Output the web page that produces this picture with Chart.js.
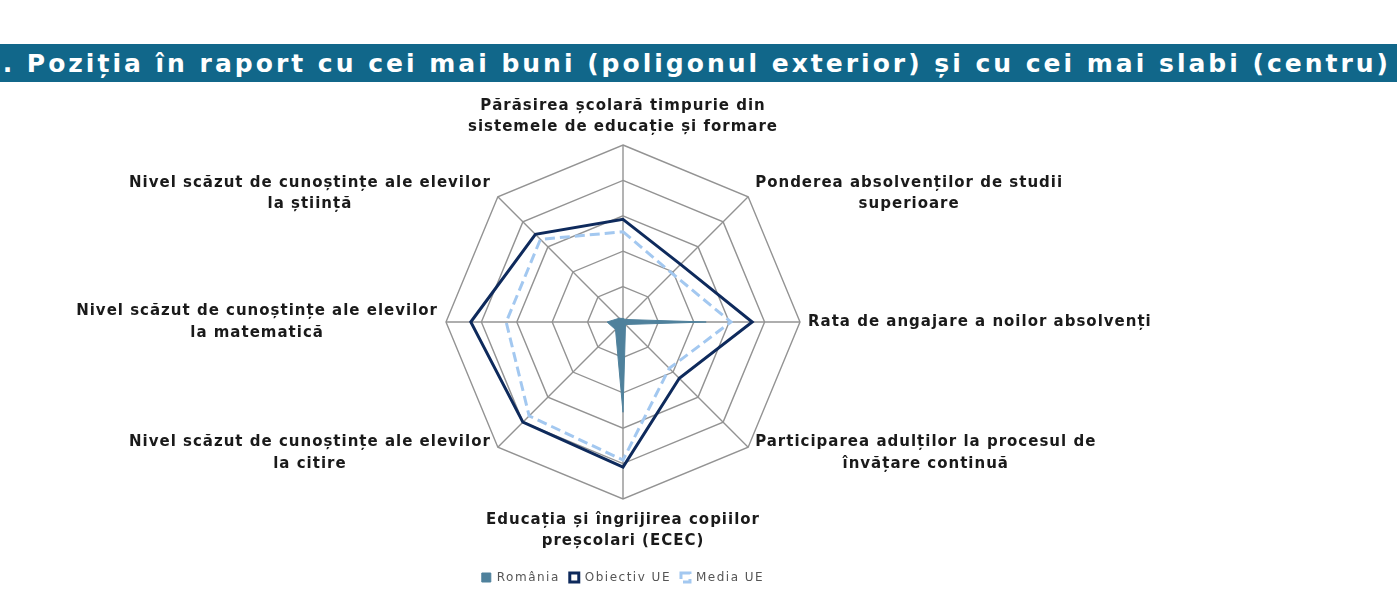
<!DOCTYPE html>
<html>
<head>
<meta charset="utf-8">
<script src="https://cdn.jsdelivr.net/npm/chart.js@4.4.1/dist/chart.umd.min.js"></script>
<style>
  html, body { margin: 0; padding: 0; background: #fff; }
  #wrap { position: relative; width: 1400px; height: 600px; overflow: hidden; }
  #title {
    position: absolute; left: 0; top: 44px; width: 1397px; height: 38px;
    background: #11678a; overflow: hidden; z-index: 2;
  }
  #title span {
    position: absolute; right: 6px; top: 5px; line-height: 38px;
    color: #fff; font: bold 25px "DejaVu Sans"; letter-spacing: 3px; white-space: nowrap;
  }
  #chart { position: absolute; left: 0; top: 0; }
</style>
</head>
<body>
<div id="wrap">
  <div id="title"><span>. Poziția în raport cu cei mai buni (poligonul exterior) și cu cei mai slabi (centru)</span></div>
  <canvas id="chart" width="1400" height="600"></canvas>
</div>
<script>
// Axes, clockwise from the top
const axisLabels = [
    ['Părăsirea școlară timpurie din', 'sistemele de educație și formare'],
    ['Ponderea absolvenților de studii', 'superioare'],
    ['Rata de angajare a noilor absolvenți'],
    ['Participarea adulților la procesul de', 'învățare continuă'],
    ['Educația și îngrijirea copiilor', 'preșcolari (ECEC)'],
    ['Nivel scăzut de cunoștințe ale elevilor', 'la citire'],
    ['Nivel scăzut de cunoștințe ale elevilor', 'la matematică'],
    ['Nivel scăzut de cunoștințe ale elevilor', 'la știință']
];

const seriesNames = ['România', 'Obiectiv UE', 'Media UE'];
const romania = [0.1, 0.1, 2.35, 0.1, 2.55, 0.3, 0.45, 0.15];
const obiectivUE = [2.9, 2.3, 3.65, 2.25, 4.1, 4.0, 4.3, 3.5];
const mediaUE = [2.55, 1.95, 3.05, 1.85, 3.9, 3.75, 3.3, 3.3];
const scaleMax = 5;

// wider spacing for the legend text (measured and drawn with it)
const legendSpacing = {
    id: 'legendSpacing',
    beforeLayout(chart) { chart.ctx.letterSpacing = '1.5px'; },
    beforeDraw(chart) { chart.ctx.letterSpacing = '1.5px'; }
};

// --- Point labels drawn as centred text blocks ---
const pointLabelBlocks = {
    id: 'pointLabelBlocks',
    afterDraw(chart) {
        const scale = chart.scales.r;
        const ctx = chart.ctx;
        const lh = 21.5;
        ctx.save();
        ctx.font = 'bold 15px "DejaVu Sans"';
        ctx.letterSpacing = '1px';
        ctx.fillStyle = '#1a1a1a';
        ctx.textAlign = 'center';
        ctx.textBaseline = 'middle';
        axisLabels.forEach((lines, i) => {
            const p = scale.getPointPosition(i, scale.drawingArea);
            const w = Math.max(...lines.map(l => ctx.measureText(l).width));
            const h = lh * lines.length;
            const dx = p.x - scale.xCenter;
            const dy = p.y - scale.yCenter;
            let cx, top;
            if (Math.abs(dx) < 1) {
                cx = p.x;
                top = dy < 0 ? p.y - 7 - h : p.y + 10;
            } else {
                const gap = Math.abs(dy) < 1 ? 8 : 7;
                cx = dx > 0 ? p.x + gap + w / 2 : p.x - gap - w / 2;
                top = p.y - h / 2 + (Math.abs(dy) < 1 ? 0 : (dy < 0 ? -3 : 6));
            }
            lines.forEach((l, k) => ctx.fillText(l, cx, top + lh * k + lh / 2));
        });
        ctx.restore();
    }
};

new Chart(document.getElementById('chart'), {
    type: 'radar',
    data: {
        labels: axisLabels,
        datasets: [
            {
                label: seriesNames[0],
                data: romania,
                backgroundColor: '#4f819c',
                borderColor: '#4f819c',
                borderWidth: 1,
                fill: true,
                pointRadius: 0
            },
            {
                label: seriesNames[1],
                data: obiectivUE,
                backgroundColor: '#ffffff',
                borderColor: '#0e2a5c',
                borderWidth: 3,
                fill: false,
                pointRadius: 0
            },
            {
                label: seriesNames[2],
                data: mediaUE,
                backgroundColor: '#ffffff',
                borderColor: '#a3c8f0',
                borderWidth: 3,
                borderDash: [10, 5],
                fill: false,
                pointRadius: 0
            }
        ]
    },
    options: {
        responsive: false,
        animation: false,
        layout: { padding: { left: 445, right: 599, top: 145, bottom: 6.5 } },
        scales: {
            r: {
                min: 0,
                max: scaleMax,
                ticks: { display: false, stepSize: 1 },
                grid: { color: '#939393', lineWidth: 1.4 },
                angleLines: { color: '#939393', lineWidth: 1.4 },
                pointLabels: { display: false }
            }
        },
        plugins: {
            legend: {
                position: 'bottom',
                title: { display: true, text: '', font: { size: 10 }, padding: { top: 49.5, bottom: 0 } },
                labels: {
                    boxWidth: 9,
                    boxHeight: 9,
                    padding: 10,
                    color: '#555',
                    font: { size: 12, family: 'DejaVu Sans' }
                }
            },
            tooltip: { enabled: false }
        }
    },
    plugins: [legendSpacing, pointLabelBlocks]
});
</script>
</body>
</html>
